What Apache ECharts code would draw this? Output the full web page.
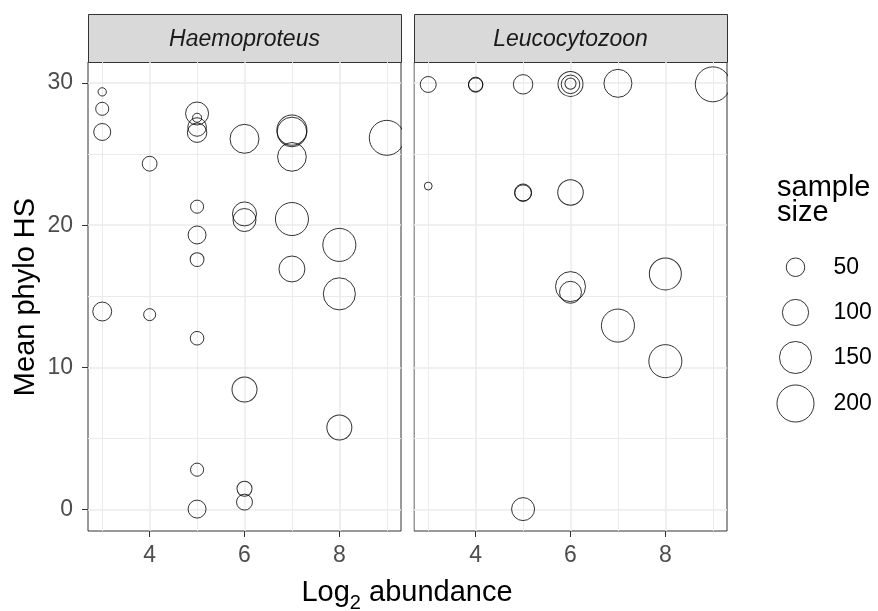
<!DOCTYPE html>
<html><head><meta charset="utf-8">
<script src="https://cdn.jsdelivr.net/npm/echarts@6/dist/echarts.min.js"></script>
<style>html,body{margin:0;padding:0;background:#fff}#c{width:878px;height:611px}</style>
</head><body><div id="c"></div>
<script>
// ---- data ----
const panelNames = ['Haemoproteus', 'Leucocytozoon'];

const haemoX = [3, 3, 3, 4, 5, 5, 5, 5, 6, 7, 7, 7, 9, 5, 5, 5, 6, 6, 7, 8, 7, 8, 3, 4, 5, 6, 8, 5, 6, 6, 5];
const haemoY = [29.37, 28.18, 26.55, 24.32, 27.85, 27.55, 26.9, 26.5, 26.07, 26.68, 26.55, 24.8, 26.14, 21.3, 19.31, 17.58, 20.79, 20.36, 20.43, 18.61, 16.92, 15.17, 13.93, 13.71, 12.05, 8.45, 5.78, 2.81, 1.47, 0.53, 0.04];
const haemoN = [10, 25, 42, 32, 77, 12, 50, 55, 122, 132, 128, 120, 178, 25, 47, 28, 84, 77, 159, 159, 98, 150, 52, 21, 27, 91, 91, 25, 33, 37, 47];

const leucoX = [3, 4, 4, 5, 6, 6, 6, 7, 9, 3, 5, 5, 6, 6, 6, 8, 7, 8, 5];
const leucoY = [29.89, 29.9, 29.85, 29.9, 29.93, 29.9, 29.95, 29.97, 29.9, 22.75, 22.3, 22.25, 22.3, 15.68, 15.28, 16.57, 12.94, 10.44, 0.04];
const leucoN = [37, 30, 30, 55, 91, 50, 18, 114, 178, 9, 42, 40, 95, 131, 70, 149, 159, 159, 77];

const xMajorTicks = [4, 6, 8];
const xMinorTicks = [3, 5, 7, 9];
const yMajorTicks = [0, 10, 20, 30];
const yMinorTicks = [5, 15, 25];
const legendSizes = [50, 100, 150, 200];

const xRange = [2.7, 9.3];
const yRange = [-1.5, 31.47];

// ---- helpers ----
const FONT = 'Liberation Sans, Arial, sans-serif';
const SMALL = 23, BIG = 29;
const sizeScale = n => 2.62 * Math.sqrt(n);
const zip = (xs, ys, ns) => xs.map((x, i) => [x, ys[i], ns[i]]);

const grids = [
  {left: 88, top: 62, width: 313, height: 469},
  {left: 414, top: 62, width: 313, height: 469}
];

function xAxes(gi) {
  return [
    {gridIndex: gi, type: 'value', min: xRange[0], max: xRange[1], position: 'bottom',
     axisLine: {show: false, onZero: false},
     axisTick: {show: true, inside: false, customValues: xMajorTicks, length: 6, lineStyle: {color: '#333333', width: 1}},
     axisLabel: {customValues: xMajorTicks, color: '#4D4D4D', fontSize: SMALL, fontFamily: FONT, margin: 13},
     splitLine: {show: true, lineStyle: {color: '#EBEBEB', width: 1.5}}},
    {gridIndex: gi, type: 'value', min: xRange[0], max: xRange[1], position: 'top',
     axisLine: {show: false, onZero: false},
     axisTick: {show: false, customValues: xMinorTicks},
     axisLabel: {show: false, customValues: xMinorTicks},
     splitLine: {show: true, lineStyle: {color: '#EBEBEB', width: 1}}}
  ];
}
function yAxes(gi, labels) {
  return [
    {gridIndex: gi, type: 'value', min: yRange[0], max: yRange[1], position: 'left',
     axisLine: {show: false, onZero: false},
     axisTick: {show: labels, inside: false, customValues: yMajorTicks, length: 6, lineStyle: {color: '#333333', width: 1}},
     axisLabel: {show: labels, customValues: yMajorTicks, color: '#4D4D4D', fontSize: SMALL, fontFamily: FONT, margin: 15},
     splitLine: {show: true, lineStyle: {color: '#EBEBEB', width: 1.5}}},
    {gridIndex: gi, type: 'value', min: yRange[0], max: yRange[1], position: 'right',
     axisLine: {show: false, onZero: false},
     axisTick: {show: false, customValues: yMinorTicks},
     axisLabel: {show: false, customValues: yMinorTicks},
     splitLine: {show: true, lineStyle: {color: '#EBEBEB', width: 1}}}
  ];
}

const pointStyle = {color: 'rgba(0,0,0,0)', borderColor: '#000000', borderWidth: 1};

const series = [
  {type: 'scatter', name: panelNames[0], xAxisIndex: 0, yAxisIndex: 0, data: zip(haemoX, haemoY, haemoN),
   symbol: 'circle', symbolSize: v => sizeScale(v[2]), itemStyle: pointStyle, silent: true, z: 3},
  {type: 'scatter', name: panelNames[1], xAxisIndex: 2, yAxisIndex: 2, data: zip(leucoX, leucoY, leucoN),
   symbol: 'circle', symbolSize: v => sizeScale(v[2]), itemStyle: pointStyle, silent: true, z: 3}
];
legendSizes.forEach(s => series.push({type: 'scatter', name: String(s), xAxisIndex: 0, yAxisIndex: 0, data: [],
  symbol: 'circle', itemStyle: pointStyle}));

const legendCenterX = 795, legendLabelX = 833, legendTops = [265, 312, 357, 403];
const legends = legendSizes.map((s, i) => {
  const w = sizeScale(s);
  return {
    data: [String(s)], orient: 'vertical', padding: 0, selectedMode: false,
    left: legendCenterX - w / 2, top: legendTops[i] - w / 2,
    itemWidth: w, itemHeight: w, icon: 'circle',
    itemStyle: {color: 'rgba(0,0,0,0)', borderColor: '#000000', borderWidth: 1},
    textStyle: {fontSize: SMALL, fontFamily: FONT, color: '#000000', padding: [0, 0, 0, legendLabelX - legendCenterX - w / 2 - 5]}
  };
});

const stripY = 14, stripH = 48;
const graphics = [];
// masks so that symbols are clipped at the panel borders, as in the reference
graphics.push({type: 'rect', z: 50, shape: {x: 402, y: 62, width: 11.5, height: 470}, style: {fill: '#ffffff'}, silent: true});
graphics.push({type: 'rect', z: 50, shape: {x: 728, y: 62, width: 30, height: 470}, style: {fill: '#ffffff'}, silent: true});
grids.forEach((g, i) => {
  graphics.push({type: 'rect', shape: {x: g.left + 0.5, y: stripY + 0.5, width: g.width, height: stripH},
    style: {fill: '#D9D9D9', stroke: '#333333', lineWidth: 1}, silent: true});
  graphics.push({type: 'text', x: g.left + g.width / 2, y: 40,
    style: {text: panelNames[i], font: 'italic ' + SMALL + 'px ' + FONT, fill: '#1A1A1A', align: 'center', verticalAlign: 'middle'}, silent: true});
});
graphics.push({type: 'text', x: 407, y: 593,
  style: {text: '{a|Log}{b|2}{a| abundance}', align: 'center', verticalAlign: 'middle',
    rich: {a: {fontSize: BIG, fontFamily: FONT, fill: '#000', lineHeight: 30, verticalAlign: 'top'},
           b: {fontSize: 20, fontFamily: FONT, fill: '#000', lineHeight: 20, padding: [15, 0, 0, 0], verticalAlign: 'top'}}},
  silent: true});
graphics.push({type: 'text', x: 26, y: 297, rotation: Math.PI / 2,
  style: {text: 'Mean phylo HS', font: BIG + 'px ' + FONT, fill: '#000', align: 'center', verticalAlign: 'middle'}, silent: true});
graphics.push({type: 'text', x: 777, y: 175,
  style: {text: 'sample\nsize', font: BIG + 'px ' + FONT, fill: '#000', align: 'left', verticalAlign: 'top', lineHeight: 25}, silent: true});

const chart = echarts.init(document.getElementById('c'), null, {renderer: 'canvas'});
chart.setOption({
  animation: false,
  backgroundColor: '#ffffff',
  grid: grids.map(g => Object.assign({show: true, borderColor: '#333333', borderWidth: 1, backgroundColor: 'transparent', containLabel: false}, g)),
  xAxis: [...xAxes(0), ...xAxes(1)],
  yAxis: [...yAxes(0, true), ...yAxes(1, false)],
  legend: legends,
  series: series,
  graphic: graphics
});
</script></body></html>
